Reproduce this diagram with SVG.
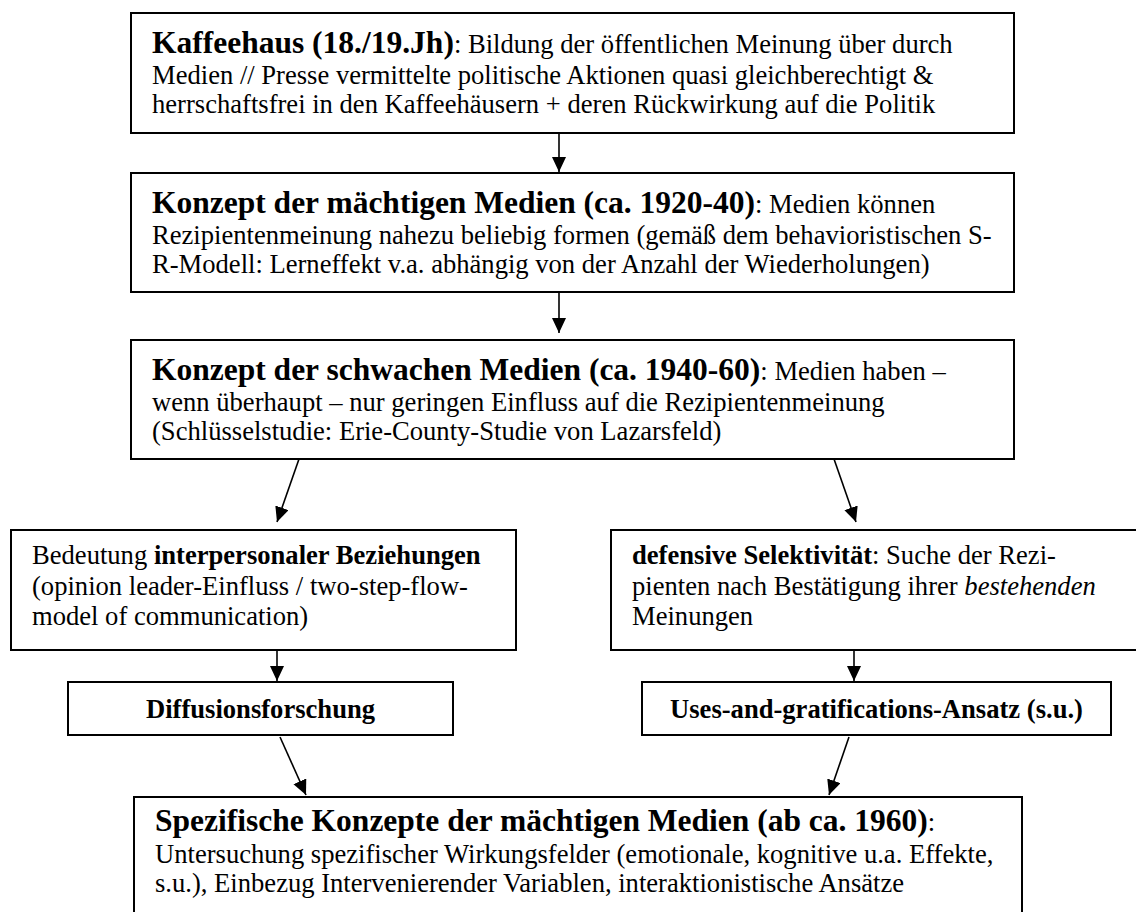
<svg xmlns="http://www.w3.org/2000/svg" width="1136" height="912" viewBox="0 0 1136 912">
<style>
text{font-family:"Liberation Serif","Times New Roman",serif;font-size:26.6px;fill:#000}
.t{font-size:31.5px;font-weight:bold}
.b{font-weight:bold}
.i{font-style:italic}
.box{fill:#fff;stroke:#000;stroke-width:2}
.c{fill:none;stroke:#000;stroke-width:1.6}
</style>
<defs>
<marker id="ah" markerUnits="userSpaceOnUse" markerWidth="16" markerHeight="15" refX="15" refY="7" orient="auto">
<path d="M0,0 L15,7 L0,14 z" fill="#000"/>
</marker>
</defs>
<rect width="1136" height="912" fill="#fff"/>
<g id="connectors">
<line class="c" x1="559" y1="133" x2="559" y2="172" marker-end="url(#ah)"/>
<line class="c" x1="559" y1="292" x2="559" y2="333" marker-end="url(#ah)"/>
<line class="c" x1="299" y1="459" x2="277" y2="522" marker-end="url(#ah)"/>
<line class="c" x1="834" y1="459" x2="856" y2="522" marker-end="url(#ah)"/>
<line class="c" x1="277" y1="643" x2="277" y2="681" marker-end="url(#ah)"/>
<line class="c" x1="854" y1="643" x2="854" y2="681" marker-end="url(#ah)"/>
<line class="c" x1="280" y1="737" x2="306" y2="795" marker-end="url(#ah)"/>
<line class="c" x1="849" y1="737" x2="829" y2="795" marker-end="url(#ah)"/>
</g>
<g id="kaffeehaus">
<rect class="box" x="131" y="13" width="883" height="120"/>
<text x="152" y="53"><tspan class="t">Kaffeehaus (18./19.Jh)</tspan>: Bildung der öffentlichen Meinung über durch</text>
<text x="152" y="83.5">Medien // Presse vermittelte politische Aktionen quasi gleichberechtigt &amp;</text>
<text x="152" y="113">herrschaftsfrei in den Kaffeehäusern + deren Rückwirkung auf die Politik</text>
</g>
<g id="maechtige">
<rect class="box" x="131" y="173" width="883" height="119"/>
<text x="152" y="213"><tspan class="t">Konzept der mächtigen Medien (ca. 1920-40)</tspan>: Medien können</text>
<text x="152" y="243.5">Rezipientenmeinung nahezu beliebig formen (gemäß dem behavioristischen S-</text>
<text x="152" y="273">R-Modell: Lerneffekt v.a. abhängig von der Anzahl der Wiederholungen)</text>
</g>
<g id="schwache">
<rect class="box" x="131" y="340" width="883" height="119"/>
<text x="152" y="380"><tspan class="t">Konzept der schwachen Medien (ca. 1940-60)</tspan>: Medien haben –</text>
<text x="152" y="410.5">wenn überhaupt – nur geringen Einfluss auf die Rezipientenmeinung</text>
<text x="152" y="440">(Schlüsselstudie: Erie-County-Studie von Lazarsfeld)</text>
</g>
<g id="interpersonal">
<rect class="box" x="11" y="530" width="505" height="120"/>
<text x="32" y="564">Bedeutung <tspan class="b">interpersonaler Beziehungen</tspan></text>
<text x="32" y="594.5">(opinion leader-Einfluss / two-step-flow-</text>
<text x="32" y="625">model of communication)</text>
</g>
<g id="selektivitaet">
<rect class="box" x="611" y="530" width="535" height="120"/>
<text x="632" y="564"><tspan class="b">defensive Selektivität</tspan>: Suche der Rezi-</text>
<text x="632" y="594.5">pienten nach Bestätigung ihrer <tspan class="i">bestehenden</tspan></text>
<text x="632" y="625">Meinungen</text>
</g>
<g id="diffusion">
<rect class="box" x="68" y="682" width="385" height="53"/>
<text class="b" x="260.5" y="718" text-anchor="middle">Diffusionsforschung</text>
</g>
<g id="uses">
<rect class="box" x="642" y="682" width="469" height="53"/>
<text class="b" x="876.5" y="718" text-anchor="middle">Uses-and-gratifications-Ansatz (s.u.)</text>
</g>
<g id="spezifische">
<rect class="box" x="134" y="797" width="888" height="140"/>
<text x="155" y="831"><tspan class="t">Spezifische Konzepte der mächtigen Medien (ab ca. 1960)</tspan>:</text>
<text x="155" y="863">Untersuchung spezifischer Wirkungsfelder (emotionale, kognitive u.a. Effekte,</text>
<text x="155" y="892">s.u.), Einbezug Intervenierender Variablen, interaktionistische Ansätze</text>
</g>
</svg>
